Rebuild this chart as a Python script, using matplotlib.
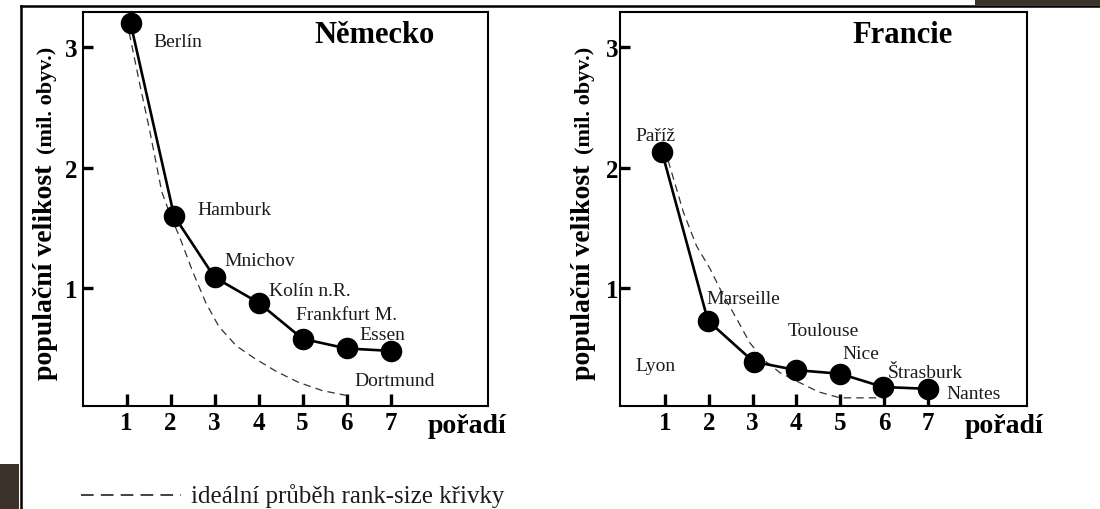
import matplotlib
matplotlib.use("Agg")
import matplotlib.pyplot as plt
from matplotlib.lines import Line2D
from matplotlib.patches import Rectangle

plt.rcParams['font.family'] = ['Liberation Serif', 'DejaVu Serif']

# ---- Data (mil. obyv.) ----
RANKS_DE = [1.09, 2.08, 3.0, 4.0, 5.0, 6.0, 7.0]
POP_DE = [3.2, 1.6, 1.09, 0.88, 0.58, 0.50, 0.48]
CITIES_DE = ["Berlín", "Hamburk", "Mnichov", "Kolín n.R.", "Frankfurt M.", "Essen", "Dortmund"]
IDEAL_X_DE = [1.06, 1.29, 1.53, 1.8, 2.0, 2.2, 2.5, 2.8, 3.1, 3.5, 3.9, 4.4, 4.9, 5.45, 6.0]
IDEAL_Y_DE = [3.12, 2.71, 2.30, 1.80, 1.60, 1.43, 1.14, 0.88, 0.68, 0.52, 0.42, 0.31, 0.22, 0.15, 0.11]

RANKS_FR = [0.93, 1.98, 3.02, 4.0, 5.0, 5.98, 7.0]
POP_FR = [2.13, 0.73, 0.39, 0.32, 0.29, 0.18, 0.165]
CITIES_FR = ["Paříž", "Marseille", "Lyon", "Toulouse", "Nice", "Štrasburk", "Nantes"]
IDEAL_X_FR = [1.07, 1.42, 1.72, 2.03, 2.33, 2.63, 2.93, 3.24, 3.62, 4.0, 4.5, 5.0, 6.0]
IDEAL_Y_FR = [2.06, 1.63, 1.35, 1.16, 0.94, 0.75, 0.55, 0.41, 0.30, 0.23, 0.14, 0.09, 0.09]

TICKS_X = [1, 2, 3, 4, 5, 6, 7]
TICKS_Y = [1, 2, 3]

# ---- Layout: where the city names sit (data coords, left/baseline) ----
LABEL_POS_DE = [(1.6, 3.01), (2.61, 1.62), (3.23, 1.19), (4.23, 0.94),
                (4.84, 0.745), (6.29, 0.58), (6.17, 0.20)]
LABEL_POS_FR = [(0.32, 2.23), (1.94, 0.88), (0.33, 0.32), (3.8, 0.61),
                (5.05, 0.42), (6.08, 0.26), (7.43, 0.088)]

TEXT_COL = '#1c1c1c'


def draw_panel(ax, ranks, pops, ix, iy, names, label_pos, title, title_x,
               xlim, porad_x, ypad):
    ax.plot(ix, iy, color='#333333', lw=0.9, ls=(0, (6, 4)), zorder=2)
    ax.plot(ranks, pops, color='black', lw=1.9, marker='o', ms=14.5, zorder=3)
    for name, (lx, ly) in zip(names, label_pos):
        ax.text(lx, ly, name, fontsize=14, color=TEXT_COL, ha='left', va='baseline')
    ax.text(title_x, 3.045, title, fontsize=22, fontweight='bold', ha='left', va='baseline')

    ax.set_xlim(*xlim)
    ax.set_ylim(0.02, 3.29)
    ax.set_xticks(TICKS_X)
    ax.set_yticks(TICKS_Y)
    ax.tick_params(axis='x', direction='in', length=9, width=2.4, labelsize=18, pad=3.5)
    ax.tick_params(axis='y', direction='in', length=7.5, width=2.4, labelsize=18, pad=ypad)
    for lab in ax.get_xticklabels() + ax.get_yticklabels():
        lab.set_fontweight('bold')
    for sp in ax.spines.values():
        sp.set_linewidth(1.5)
    ax.text(porad_x, -0.066, 'pořadí', transform=ax.get_xaxis_transform(),
            fontsize=20, fontweight='bold', ha='left', va='baseline')


fig = plt.figure(figsize=(11, 5.1), dpi=100)
fig.patch.set_facecolor('white')

ax_de = fig.add_axes([0.0759, 0.2014, 0.3675, 0.7725])
ax_fr = fig.add_axes([0.5638, 0.2014, 0.370, 0.7725])

draw_panel(ax_de, RANKS_DE, POP_DE, IDEAL_X_DE, IDEAL_Y_DE, CITIES_DE, LABEL_POS_DE,
           'Německo', 5.28, (0.02, 9.21), 7.85, 4)
draw_panel(ax_fr, RANKS_FR, POP_FR, IDEAL_X_FR, IDEAL_Y_FR, CITIES_FR, LABEL_POS_FR,
           'Francie', 5.28, (-0.025, 9.27), 7.83, 1)

# y-axis labels (two sizes)
for xb in [52 / 1100, 590 / 1100]:
    fig.text(xb, 1 - 380 / 510, 'populační velikost', rotation=90, rotation_mode='anchor',
             ha='left', va='baseline', fontsize=20, fontweight='bold')
    fig.text(xb, 1 - 47 / 510, '(mil. obyv.)', rotation=90, rotation_mode='anchor',
             ha='right', va='baseline', fontsize=16, fontweight='bold')

# legend for the dashed curve
fig.add_artist(Line2D([81 / 1100, 181 / 1100], [1 - 496 / 510] * 2, color='#333333',
                      lw=1.3, ls=(0, (7, 4))))
fig.text(191 / 1100, 1 - 496 / 510, 'ideální průběh rank-size křivky', fontsize=18,
         color=TEXT_COL, ha='left', va='center')

# frame of the scanned slide
fig.add_artist(Line2D([20.7 / 1100, 20.7 / 1100], [0, 1 - 7.3 / 510], color='black', lw=1.8))
fig.add_artist(Line2D([20.7 / 1100, 1], [1 - 7.3 / 510] * 2, color='black', lw=1.8))
fig.add_artist(Rectangle((975 / 1100, 1 - 6 / 510), 125 / 1100, 6 / 510,
                         transform=fig.transFigure, color='#3b3229', lw=0))
fig.add_artist(Rectangle((0, 0), 19 / 1100, 45 / 510,
                         transform=fig.transFigure, color='#3b3229', lw=0))

fig.savefig('out.png', dpi=100)
